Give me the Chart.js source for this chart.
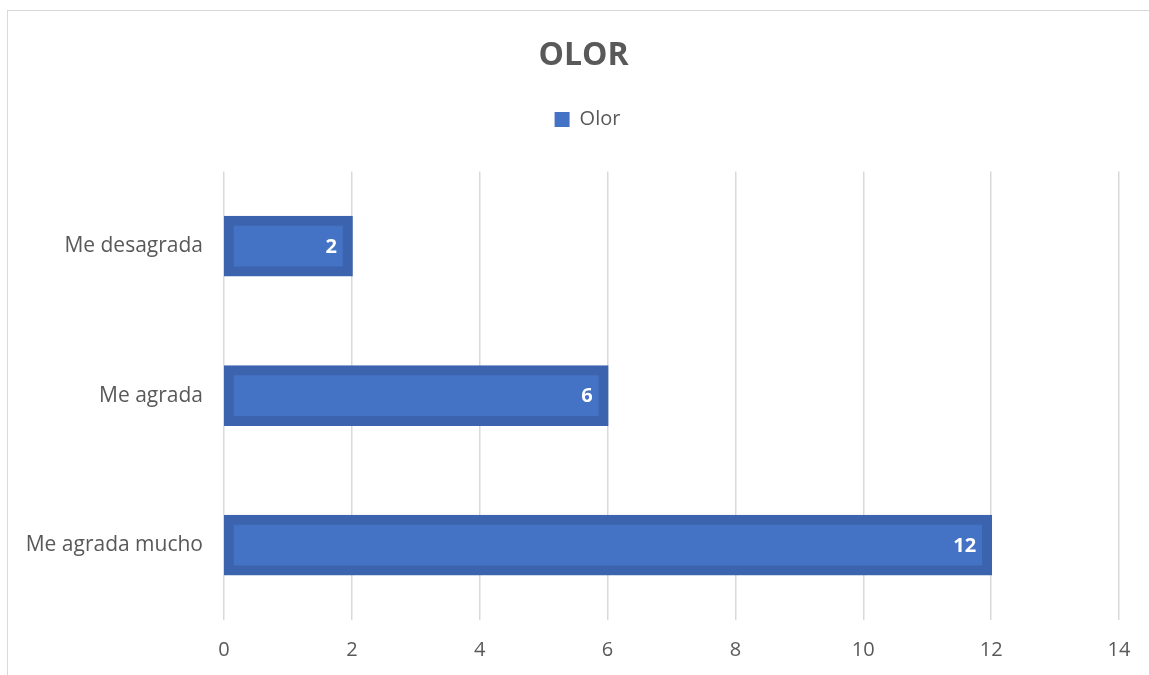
<!DOCTYPE html>
<html>
<head>
<meta charset="utf-8">
<title>OLOR</title>
<script src="https://cdn.jsdelivr.net/npm/chart.js@4/dist/chart.umd.min.js"></script>
<style>
  body { margin: 0; background: #fff; overflow: hidden; }
  #frame { position: absolute; left: 7px; top: 10px; width: 1200px; height: 720px; border: 1.5px solid #d9d9d9; }
  #wrap { position: absolute; left: 0; top: 0; width: 1149px; height: 675px; }
</style>
</head>
<body>
<div id="frame"></div>
<div id="wrap"><canvas id="olor" width="1149" height="675"></canvas></div>
<script>
// datos de la encuesta
var categorias = ['Me desagrada', 'Me agrada', 'Me agrada mucho'];
var valores = [2, 6, 12];
var marcasX = [0, 2, 4, 6, 8, 10, 12, 14];

var gris = '#595959';
var fuente = '"Open Sans", sans-serif';

// etiquetas blancas dentro del extremo de cada barra
var etiquetas = {
  id: 'etiquetas',
  afterDatasetsDraw: function(chart) {
    var ctx = chart.ctx;
    ctx.save();
    ctx.fillStyle = '#ffffff';
    ctx.font = 'bold 20px ' + fuente;
    ctx.textAlign = 'right';
    ctx.textBaseline = 'middle';
    chart.getDatasetMeta(0).data.forEach(function(bar, i) {
      ctx.fillText(valores[i], bar.x - 15, bar.y + 1);
    });
    ctx.restore();
  }
};

// espacio extra debajo de la leyenda y título/leyenda centrados en el marco
var encabezado = {
  id: 'encabezado',
  beforeInit: function(chart) {
    var fit = chart.legend.fit;
    chart.legend.fit = function() {
      fit.bind(chart.legend)();
      this.height += 32;
    };
  },
  afterLayout: function(chart) {
    chart.titleBlock.left += 24;
    chart.titleBlock.right += 24;
    chart.legend.left += 28;
    chart.legend.right += 28;
  }
};

var ctx = document.getElementById('olor');
var myChart = new Chart(ctx, {
  type: 'bar',
  data: {
    labels: categorias,
    datasets: [{
      label: 'Olor',
      data: valores,
      backgroundColor: '#4472c4',
      borderColor: '#3c64ae',
      borderWidth: 10,
      borderSkipped: false,
      inflateAmount: 1,
      categoryPercentage: 1,
      barPercentage: 0.393
    }]
  },
  options: {
    indexAxis: 'y',
    responsive: false,
    animation: false,
    layout: { padding: { left: 0, right: 30, top: 0, bottom: 0 } },
    plugins: {
      title: {
        display: true,
        text: 'OLOR',
        color: gris,
        font: { family: fuente, size: 32, weight: 'bold' },
        padding: { top: 37, bottom: 24 }
      },
      legend: {
        display: true,
        labels: {
          color: gris,
          font: { family: fuente, size: 20 },
          boxWidth: 15,
          boxHeight: 15,
          generateLabels: function(chart) {
            return [{ text: 'Olor', fillStyle: '#4472c4', strokeStyle: '#4472c4', fontColor: gris, lineWidth: 0, datasetIndex: 0 }];
          }
        }
      },
      tooltip: { enabled: false }
    },
    scales: {
      x: {
        min: 0,
        max: 14,
        afterBuildTicks: function(scale) {
          scale.ticks = marcasX.map(function(v) { return { value: v }; });
        },
        afterFit: function(scale) { scale.height = 55; },
        grid: { color: '#d9d9d9', lineWidth: 1.5, drawTicks: false },
        border: { display: false },
        ticks: { color: gris, font: { family: fuente, size: 20 }, padding: 18 }
      },
      y: {
        afterFit: function(scale) { scale.width = 224; },
        grid: { display: false },
        border: { display: false },
        ticks: { color: gris, font: { family: fuente, size: 21 }, padding: 13 }
      }
    }
  },
  plugins: [etiquetas, encabezado]
});
</script>
</body>
</html>
